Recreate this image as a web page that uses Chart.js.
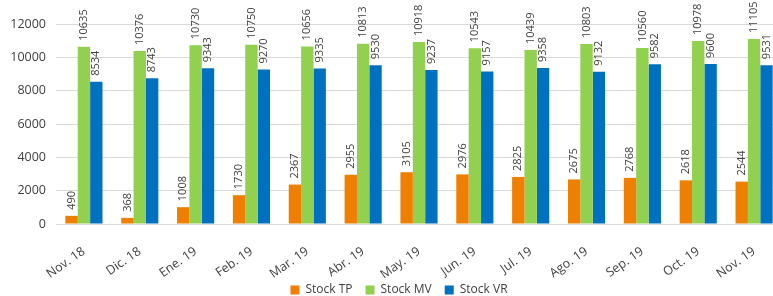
<!DOCTYPE html>
<html>
<head>
<meta charset="utf-8">
<script src="https://cdn.jsdelivr.net/npm/chart.js@4"></script>
<style>
  html, body { margin: 0; padding: 0; background: #fff; overflow: hidden; }
  #wrap { width: 800px; height: 306px; }
</style>
</head>
<body>
<div id="wrap"><canvas id="chart" width="800" height="306"></canvas></div>
<script>
const months = ['Nov. 18', 'Dic. 18', 'Ene. 19', 'Feb. 19', 'Mar. 19', 'Abr. 19', 'May. 19',
  'Jun. 19', 'Jul. 19', 'Ago. 19', 'Sep. 19', 'Oct. 19', 'Nov. 19'];
const stockTP = [490, 368, 1008, 1730, 2367, 2955, 3105, 2976, 2825, 2675, 2768, 2618, 2544];
const stockMV = [10635, 10376, 10730, 10750, 10656, 10813, 10918, 10543, 10439, 10803, 10560, 10978, 11105];
const stockVR = [8534, 8743, 9343, 9270, 9335, 9530, 9237, 9157, 9358, 9132, 9582, 9600, 9531];
const yTicks = [0, 2000, 4000, 6000, 8000, 10000, 12000];

const fontFamily = '"Open Sans", sans-serif';

// value labels written vertically above each bar
const barLabels = {
  id: 'barLabels',
  afterDatasetsDraw(chart) {
    const ctx = chart.ctx;
    ctx.save();
    ctx.font = '11px ' + fontFamily;
    ctx.fillStyle = '#404040';
    ctx.textAlign = 'left';
    ctx.textBaseline = 'middle';
    chart.data.datasets.forEach((ds, i) => {
      chart.getDatasetMeta(i).data.forEach((bar, j) => {
        ctx.save();
        ctx.translate(bar.x, bar.y - 6);
        ctx.rotate(-Math.PI / 2);
        ctx.fillText(String(ds.data[j]), 0, 0);
        ctx.restore();
      });
    });
    ctx.restore();
  }
};

// legend sits a little right of centre; month labels may run past the axis box
const layoutTweak = {
  id: 'layoutTweak',
  afterLayout(chart) {
    chart.legend.left += 8;
    chart.legend.right += 8;
    chart.scales.x.bottom = chart.height;
  }
};

new Chart(document.getElementById('chart'), {
  type: 'bar',
  data: {
    labels: months,
    datasets: [
      { label: 'Stock TP', data: stockTP, backgroundColor: '#EE7F00' },
      { label: 'Stock MV', data: stockMV, backgroundColor: '#92D050' },
      { label: 'Stock VR', data: stockVR, backgroundColor: '#0070C0' },
    ],
  },
  options: {
    responsive: false,
    animation: false,
    layout: { padding: { top: 24, right: 18, left: 0, bottom: 0 } },
    datasets: { bar: { categoryPercentage: 0.665, barPercentage: 1.0 } },
    scales: {
      x: {
        grid: { display: false, drawTicks: false },
        border: { display: true, color: '#D9D9D9', width: 1 },
        ticks: {
          autoSkip: false,
          maxRotation: 35,
          minRotation: 35,
          padding: 20,
          color: '#404040',
          font: { family: fontFamily, size: 12.5 },
        },
        afterFit(scale) { scale.height = 47; },
      },
      y: {
        min: 0,
        max: 12000,
        afterBuildTicks(scale) { scale.ticks = yTicks.map(v => ({ value: v })); },
        grid: { color: '#D9D9D9', drawTicks: false },
        border: { display: false },
        ticks: {
          padding: 10,
          color: '#404040',
          font: { family: fontFamily, size: 12.5 },
          callback: v => String(v),
        },
        afterFit(scale) { scale.width = 56; },
      },
    },
    plugins: {
      legend: {
        position: 'bottom',
        labels: {
          boxWidth: 9,
          boxHeight: 9,
          padding: 13,
          color: '#404040',
          font: { family: fontFamily, size: 12 },
        },
      },
      tooltip: { enabled: false },
    },
  },
  plugins: [barLabels, layoutTweak],
});
</script>
</body>
</html>
